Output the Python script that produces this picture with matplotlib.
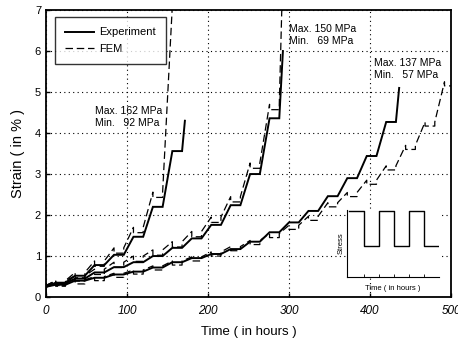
import matplotlib.pyplot as plt
import numpy as np

plt.rcParams['font.family'] = ['Liberation Sans', 'DejaVu Sans']

# Load cycle: 24 h period, creep under high stress for 12 h, then 12 h at low stress
cycle_hours = 24
high_hours = 12

# Experiment: strain (%) at the end of each high-stress phase
exp_162 = [0.35, 0.52, 0.78, 1.03, 1.47, 2.2, 3.56]
exp_150 = [0.33, 0.45, 0.6, 0.73, 0.85, 1.0, 1.2, 1.43, 1.76, 2.24, 3.0, 4.36]
exp_137 = [0.3, 0.4, 0.47, 0.55, 0.62, 0.72, 0.85, 0.95, 1.05, 1.17, 1.35,
           1.58, 1.82, 2.1, 2.46, 2.9, 3.44, 4.27]
exp_end = {'162': (171.5, 4.3), '150': (292.5, 6.0), '137': (436, 5.1)}

# FEM: peak strain (%) before each unloading
fem_162 = [0.4, 0.6, 0.88, 1.2, 1.7, 2.56]
fem_150 = [0.4, 0.52, 0.68, 0.85, 1.0, 1.15, 1.35, 1.6, 1.95, 2.45, 3.27, 4.7]
fem_137 = [0.38, 0.42, 0.5, 0.58, 0.66, 0.76, 0.88, 0.98, 1.1, 1.23, 1.38,
           1.55, 1.75, 1.97, 2.3, 2.55, 2.85, 3.2, 3.7, 4.27, 5.25]
fem_end = {'162': (156.5, 7.3), '150': (291.5, 7.3), '137': None}
fem_drop = {'162': 0.13, '150': 0.13, '137': 0.1}

initial_strain = 0.25

# Inset stress history (high / low)
inset_t = [0, 1, 1, 2, 2, 3, 3, 4, 4, 5, 5, 6]
inset_s = [1, 1, 0.47, 0.47, 1, 1, 0.47, 0.47, 1, 1, 0.47, 0.47]


def exp_curve(levels, end):
    t, s = [0, 0], [0, initial_strain]
    for k, lv in enumerate(levels):
        t += [k * cycle_hours + high_hours, (k + 1) * cycle_hours]
        s += [lv, lv]
    t.append(end[0])
    s.append(end[1])
    return t, s


def fem_curve(peaks, drop, end):
    t, s = [0, 0], [0, initial_strain + 0.03]
    for k, p in enumerate(peaks):
        t0 = k * cycle_hours + high_hours
        t1 = (k + 1) * cycle_hours
        t += [t0, t0, t1, t1]
        s += [p, p - drop, p - drop, p]
    if end is not None:
        t.append(end[0])
        s.append(end[1])
    return t, s


fig = plt.figure(figsize=(4.58, 3.45), dpi=100)
ax = fig.add_axes([0.1004, 0.139, 0.8843, 0.8319])

for key, lv in [('162', exp_162), ('150', exp_150), ('137', exp_137)]:
    t, s = exp_curve(lv, exp_end[key])
    ax.plot(t, s, color='black', lw=1.4, solid_joinstyle='miter',
            label='Experiment' if key == '162' else None)

for key, pk in [('162', fem_162), ('150', fem_150), ('137', fem_137)]:
    t, s = fem_curve(pk, fem_drop[key], fem_end[key])
    ax.plot(t, s, color='black', lw=0.9, dashes=(6, 3),
            label='FEM' if key == '162' else None)

ax.set_xlim(0, 500)
ax.set_ylim(0, 7)
ax.set_xticks([0, 100, 200, 300, 400, 500])
ax.set_yticks(range(8))
ax.tick_params(direction='in', length=3, width=1)
ax.tick_params(axis='x', pad=6)
for lbl in ax.get_xticklabels():
    lbl.set_fontstyle('italic')
    lbl.set_fontsize(8.5)
for lbl in ax.get_yticklabels():
    lbl.set_fontsize(8)
ax.grid(True, color='black', linestyle=(0, (1, 3)), linewidth=0.8)
for sp in ax.spines.values():
    sp.set_linewidth(1.3)

ax.set_xlabel('Time ( in hours )', fontsize=9.5, labelpad=6)
ax.set_ylabel('Strain ( in % )', fontsize=10.5, labelpad=7)

ax.text(61, 4.12, 'Max. 162 MPa\nMin.   92 MPa', fontsize=7.5, va='bottom',
        linespacing=1.25)
ax.text(300, 6.12, 'Max. 150 MPa\nMin.   69 MPa', fontsize=7.5, va='bottom',
        linespacing=1.25)
ax.text(405, 5.3, 'Max. 137 MPa\nMin.   57 MPa', fontsize=7.5, va='bottom',
        linespacing=1.2)

leg = ax.legend(loc='upper left', bbox_to_anchor=(0.022, 0.976), fontsize=8,
                frameon=True, fancybox=False, handlelength=2.6,
                borderaxespad=0, borderpad=0.95, labelspacing=0.55,
                handletextpad=0.4)
leg.get_frame().set_edgecolor('black')
leg.get_frame().set_linewidth(1.0)

# inset: stress history
ins = fig.add_axes([0.758, 0.197, 0.2, 0.194])
ins.plot(inset_t, inset_s, color='black', lw=1.0)
ins.set_xlim(-0.15, 6)
ins.set_ylim(0, 1.02)
ins.set_xticks([1, 2, 3, 4, 5])
ins.set_xticklabels([])
ins.set_yticks([])
ins.tick_params(direction='in', length=2, width=0.6)
ins.spines['top'].set_visible(False)
ins.spines['right'].set_visible(False)
ins.spines['left'].set_linewidth(0.8)
ins.spines['bottom'].set_linewidth(0.8)
ins.set_xlabel('Time ( in hours )', fontsize=5.5, labelpad=2)
ins.set_ylabel('Stress', fontsize=5.5, labelpad=2)

fig.savefig('out.png', dpi=100)
